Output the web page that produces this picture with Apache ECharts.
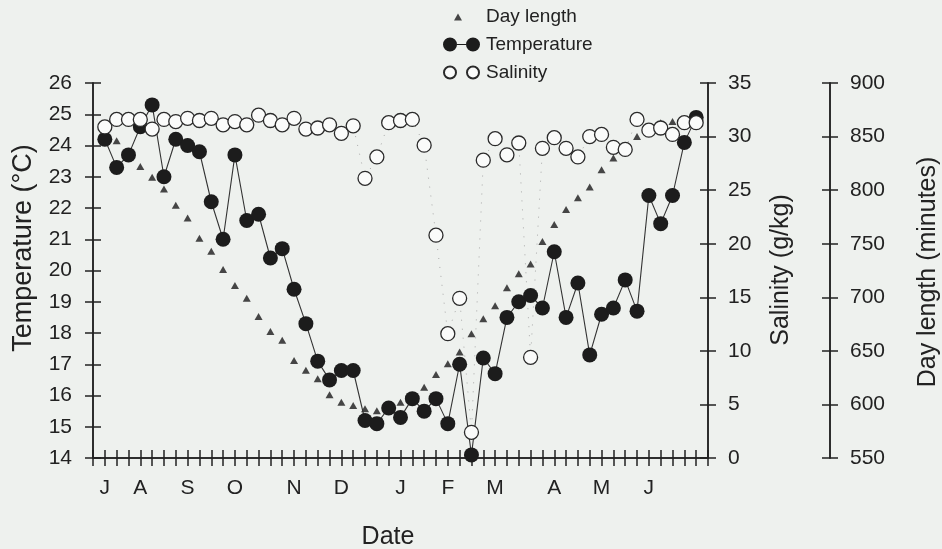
<!DOCTYPE html>
<html>
<head>
<meta charset="utf-8">
<script src="https://cdn.jsdelivr.net/npm/echarts@6/dist/echarts.min.js"></script>
<style>
  html, body { margin: 0; padding: 0; background: #eef1ee; }
  #chart { width: 942px; height: 549px; }
</style>
</head>
<body>
<div id="chart"></div>
<script>
// weekly samples, starting first week of July
const temperature = [
  24.2, 23.3, 23.7, 24.6, 25.3, 23.0, 24.2, 24.0, 23.8, 22.2,
  21.0, 23.7, 21.6, 21.8, 20.4, 20.7, 19.4, 18.3, 17.1, 16.5,
  16.8, 16.8, 15.2, 15.1, 15.6, 15.3, 15.9, 15.5, 15.9, 15.1,
  17.0, 14.1, 17.2, 16.7, 18.5, 19.0, 19.2, 18.8, 20.6, 18.5,
  19.6, 17.3, 18.6, 18.8, 19.7, 18.7, 22.4, 21.5, 22.4, 24.1,
  24.9
];
const salinity = [
  30.9, 31.6, 31.6, 31.6, 30.7, 31.6, 31.4, 31.7, 31.5, 31.7,
  31.1, 31.4, 31.1, 32.0, 31.5, 31.1, 31.7, 30.7, 30.8, 31.1,
  30.3, 31.0, 26.1, 28.1, 31.3, 31.5, 31.6, 29.2, 20.8, 11.6,
  14.9, 2.4, 27.8, 29.8, 28.3, 29.4, 9.4, 28.9, 29.9, 28.9,
  28.1, 30.0, 30.2, 29.0, 28.8, 31.6, 30.6, 30.8, 30.2, 31.3,
  31.3
];
const dayLength = [
  855, 846, 834, 822, 812, 801, 786, 774, 755, 743,
  726, 711, 699, 682, 668, 660, 641, 632, 624, 609,
  602, 599, 596, 594, 597, 602, 608, 616, 628, 638,
  649, 666, 680, 692, 709, 722, 731, 752, 768, 782,
  793, 803, 819, 830, 839, 850, 857, 863, 864, 864,
  864
];
const monthWeeks = [1, 4, 8, 12, 17, 21, 26, 30, 34, 39, 43, 47];
const monthLabels = ['J', 'A', 'S', 'O', 'N', 'D', 'J', 'F', 'M', 'A', 'M', 'J'];

const weeks = temperature.map((_, i) => i + 1);
const weekTicks = Array.from({ length: 53 }, (_, i) => i);

const ink = '#222';
const font = 'Liberation Sans';
const axisLine = { show: true, lineStyle: { color: ink, width: 1.5 } };

function xAx(inside, labels) {
  return {
    type: 'value', min: 0, max: 52, interval: 1, position: 'bottom',
    axisLine: axisLine,
    axisTick: { show: true, inside: inside, length: 8, customValues: weekTicks, lineStyle: { color: ink, width: 1.5 } },
    axisLabel: labels ? {
      customValues: monthWeeks, margin: 20, fontSize: 21, fontFamily: font, color: ink,
      formatter: v => monthLabels[monthWeeks.indexOf(v)]
    } : { show: false },
    splitLine: { show: false }
  };
}
function yAx(pos, offset, min, max, interval, inside, labels, margin) {
  return {
    type: 'value', position: pos, offset: offset, min: min, max: max, interval: interval,
    axisLine: axisLine,
    axisTick: { show: true, inside: inside, length: 8, lineStyle: { color: ink, width: 1.5 } },
    axisLabel: labels ? { margin: margin, fontSize: 21, fontFamily: font, color: ink } : { show: false },
    splitLine: { show: false }
  };
}

const chart = echarts.init(document.getElementById('chart'));
chart.setOption({
  animation: false,
  backgroundColor: '#eef1ee',
  textStyle: { fontFamily: font },
  grid: { left: 93, right: 234, top: 83, bottom: 91 },
  legend: {
    orient: 'vertical', left: 437, top: 2, itemGap: 9,
    itemWidth: 37, itemHeight: 14,
    textStyle: { fontSize: 19, fontFamily: font, color: ink, padding: [0, 0, 0, 1] },
    data: [
      { name: 'Day length', icon: 'path://M0 0L0 0M37 14L37 14M15 4L19 11L11 11Z' },
      { name: 'Temperature', icon: 'path://M0 7A7 7 0 1 1 14 7A7 7 0 1 1 0 7ZM14 6.4L23 6.4L23 7.6L14 7.6ZM23 7A7 7 0 1 1 37 7A7 7 0 1 1 23 7Z' },
      { name: 'Salinity', icon: 'path://M0 0L0 0M37 14L37 14M1 7A6 6 0 1 1 13 7A6 6 0 1 1 1 7ZM24 7A6 6 0 1 1 36 7A6 6 0 1 1 24 7Z' }
    ]
  },
  xAxis: [xAx(true, true), xAx(false, false)],
  yAxis: [
    yAx('left', 0, 14, 26, 1, false, true, 21),
    yAx('left', 0, 14, 26, 1, true, false),
    yAx('right', 0, 0, 35, 5, false, true, 20),
    yAx('right', 0, 0, 35, 5, true, false),
    yAx('right', 122, 550, 900, 50, false, true, 20),
    yAx('right', 122, 550, 900, 50, true, false)
  ],
  graphic: [
    { type: 'text', x: 24, y: 248, rotation: Math.PI / 2,
      style: { text: 'Temperature (°C)', font: '27px "Liberation Sans"', fill: ink, align: 'center', verticalAlign: 'middle' } },
    { type: 'text', x: 781, y: 270, rotation: Math.PI / 2,
      style: { text: 'Salinity (g/kg)', font: '25px "Liberation Sans"', fill: ink, align: 'center', verticalAlign: 'middle' } },
    { type: 'text', x: 928, y: 272, rotation: Math.PI / 2,
      style: { text: 'Day length (minutes)', font: '25px "Liberation Sans"', fill: ink, align: 'center', verticalAlign: 'middle' } },
    { type: 'text', x: 388, y: 537,
      style: { text: 'Date', font: '25px "Liberation Sans"', fill: ink, align: 'center', verticalAlign: 'middle' } }
  ],
  series: [
    {
      name: 'Temperature', type: 'line', xAxisIndex: 0, yAxisIndex: 0,
      data: weeks.map((w, i) => [w, temperature[i]]),
      symbol: 'circle', symbolSize: 15, showSymbol: true,
      itemStyle: { color: '#1c1c1c' },
      lineStyle: { color: '#333', width: 1.1 }
    },
    {
      name: 'Salinity', type: 'line', xAxisIndex: 0, yAxisIndex: 2,
      data: weeks.map((w, i) => [w, salinity[i]]),
      symbol: 'circle', symbolSize: 14, showSymbol: true,
      itemStyle: { color: '#fafbfa', borderColor: '#2a2a2a', borderWidth: 1.3 },
      lineStyle: { color: '#aaa', width: 1, type: [1, 8] }
    },
    {
      name: 'Day length', type: 'scatter', xAxisIndex: 0, yAxisIndex: 4,
      data: weeks.map((w, i) => [w, dayLength[i]]),
      symbol: 'triangle', symbolSize: [8, 7],
      itemStyle: { color: '#1a1a1a' }
    }
  ]
});
</script>
</body>
</html>
